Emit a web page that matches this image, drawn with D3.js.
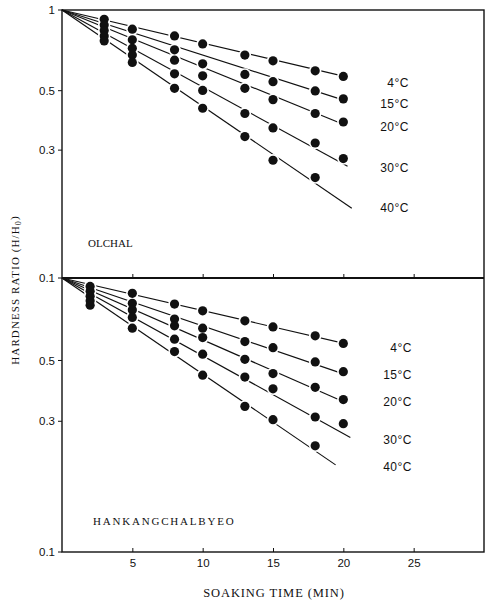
<!DOCTYPE html>
<html>
<head>
<meta charset="utf-8">
<script src="https://cdn.jsdelivr.net/npm/d3@7/dist/d3.min.js"></script>
<style>
  html, body { margin: 0; padding: 0; background: #fff; }
  svg { display: block; }
  .tick-lbl { font-family: "Liberation Sans", Arial, sans-serif; font-size: 11.5px; fill: #111; }
  .series-lbl { font-family: "Liberation Sans", Arial, sans-serif; font-size: 12px; fill: #111; letter-spacing: 0.5px; }
  .caption { font-family: "Liberation Serif", "Times New Roman", serif; fill: #111; }
</style>
</head>
<body>
<svg id="chart" width="486" height="604"></svg>
<script>
// Soaking temperature series (same for both rice varieties)
const temperatures = ["4°C", "15°C", "20°C", "30°C", "40°C"];

// Olchal: sampling times (min) and hardness ratio H/H0 per temperature
const olchalTimes = [3, 5, 8, 10, 13, 15, 18, 20];
const olchal4  = [0.923, 0.848, 0.800, 0.747, 0.679, 0.646, 0.593, 0.565];
const olchal15 = [0.880, 0.774, 0.710, 0.630, 0.575, 0.540, 0.499, 0.466];
const olchal20 = [0.838, 0.720, 0.650, 0.568, 0.510, 0.463, 0.411, 0.382];
const olchal30 = [0.800, 0.680, 0.578, 0.501, 0.411, 0.363, 0.319, 0.279];
const olchal40 = [0.767, 0.637, 0.510, 0.430, 0.337, 0.275, 0.237, null];
// Fitted first-order lines, running from (0, 1) to these end points
const olchalFitEndTime  = [20.3, 20.3, 20.2, 20.3, 20.6];
const olchalFitEndRatio = [0.562, 0.456, 0.371, 0.261, 0.182];

// Hankangchalbyeo
const hankangTimes = [2, 5, 8, 10, 13, 15, 18, 20];
const hankang4  = [0.932, 0.879, 0.803, 0.759, 0.698, 0.663, 0.615, 0.577];
const hankang15 = [0.894, 0.808, 0.708, 0.656, 0.586, 0.557, 0.494, 0.455];
const hankang20 = [0.857, 0.765, 0.669, 0.606, 0.505, 0.448, 0.399, 0.360];
const hankang30 = [0.826, 0.718, 0.598, 0.527, 0.435, 0.394, 0.311, 0.294];
const hankang40 = [0.796, 0.656, 0.539, 0.442, 0.340, 0.304, 0.244, null];
const hankangFitEndTime  = [20.2, 20.1, 20.1, 20.5, 19.45];
const hankangFitEndRatio = [0.575, 0.445, 0.352, 0.262, 0.208];

// Axis ticks
const xTicks = [5, 10, 15, 20, 25];
const topYTicks = [1, 0.5, 0.3, 0.1];
const topYTickLabels = ["1", "0.5", "0.3", "0.1"];
const bottomYTicks = [0.5, 0.3, 0.1];
const bottomYTickLabels = ["0.5", "0.3", "0.1"];

// ---- layout ----
const plotLeft = 62, plotRight = 484;
const panels = [
  { name: "OLCHAL", top: 10, bottom: 278,
    times: olchalTimes, series: [olchal4, olchal15, olchal20, olchal30, olchal40],
    fitT: olchalFitEndTime, fitV: olchalFitEndRatio,
    yTicks: topYTicks, yTickLabels: topYTickLabels,
    labelX: 409, labelNudge: [6, 2, 1, 1, -1], nameX: 88, nameY: 243, nameSpacing: 0 },
  { name: "HANKANGCHALBYEO", top: 278, bottom: 552,
    times: hankangTimes, series: [hankang4, hankang15, hankang20, hankang30, hankang40],
    fitT: hankangFitEndTime, fitV: hankangFitEndRatio,
    yTicks: bottomYTicks, yTickLabels: bottomYTickLabels,
    labelX: 412, labelNudge: [4, 0, 0, 2, 2], nameX: 93, nameY: 521, nameSpacing: 1.8 }
];

const svg = d3.select("#chart");
const x = d3.scaleLinear().domain([0, 30]).range([plotLeft, plotRight]);

panels.forEach((p, pi) => {
  const y = d3.scaleLog().domain([0.1, 1]).range([p.bottom, p.top]);
  const g = svg.append("g");

  // fitted lines
  const line = d3.line().x(d => x(d[0])).y(d => y(d[1]));
  p.fitT.forEach((t, i) => {
    g.append("path")
      .attr("d", line([[0, 1], [t, p.fitV[i]]]))
      .attr("fill", "none").attr("stroke", "#111").attr("stroke-width", 1.15);
  });

  // data points: white halo first so lines break around each dot
  const pts = [];
  p.series.forEach((vals, si) => vals.forEach((v, k) => {
    if (v != null) pts.push({ t: p.times[k], v, si });
  }));
  g.selectAll("circle.halo").data(pts).join("circle")
    .attr("class", "halo")
    .attr("cx", d => x(d.t)).attr("cy", d => y(d.v)).attr("r", 6.2)
    .attr("fill", "#fff");
  g.selectAll("circle.dot").data(pts).join("circle")
    .attr("class", "dot")
    .attr("cx", d => x(d.t)).attr("cy", d => y(d.v)).attr("r", 4.6)
    .attr("fill", "#111");

  // series labels beside line ends
  temperatures.forEach((lbl, i) => {
    g.append("text").attr("class", "series-lbl")
      .attr("x", p.labelX)
      .attr("y", y(p.fitV[i]) + p.labelNudge[i])
      .attr("dy", "0.35em").attr("text-anchor", "end")
      .text(lbl);
  });

  // y ticks and labels
  p.yTicks.forEach((v, i) => {
    g.append("line")
      .attr("x1", plotLeft - 4).attr("x2", plotLeft)
      .attr("y1", y(v)).attr("y2", y(v))
      .attr("stroke", "#111").attr("stroke-width", 1);
    g.append("text").attr("class", "tick-lbl")
      .attr("x", plotLeft - 7).attr("y", y(v)).attr("dy", "0.35em")
      .attr("text-anchor", "end").text(p.yTickLabels[i]);
  });

  // x ticks pointing up from the panel's bottom edge
  const xAxis = d3.axisBottom(x).tickValues(xTicks).tickSize(-4)
    .tickFormat(pi === 1 ? d3.format("d") : () => "");
  const ax = g.append("g").attr("transform", `translate(0,${p.bottom})`).call(xAxis);
  ax.select(".domain").remove();
  ax.selectAll(".tick line").attr("stroke", "#111").attr("stroke-width", 1);
  ax.selectAll(".tick text")
    .attr("class", "tick-lbl").attr("font-size", null).attr("font-family", null)
    .attr("fill", null).attr("dy", "0.9em").attr("y", 5);

  // panel name
  g.append("text").attr("class", "caption")
    .attr("x", p.nameX).attr("y", p.nameY).attr("dy", "0.35em")
    .attr("font-size", 11).attr("letter-spacing", p.nameSpacing)
    .text(p.name);
});

// frame: left axis, top edge, right edge, bottom axis, panel divider
const frame = svg.append("g").attr("stroke", "#111").attr("fill", "none");
frame.append("rect")
  .attr("x", plotLeft).attr("y", 10)
  .attr("width", plotRight - plotLeft).attr("height", 552 - 10)
  .attr("stroke-width", 1.4);
frame.append("line")
  .attr("x1", plotLeft).attr("x2", plotRight).attr("y1", 278).attr("y2", 278)
  .attr("stroke-width", 1.8);

// axis titles
svg.append("text").attr("class", "caption")
  .attr("x", 274).attr("y", 593).attr("dy", "0.35em")
  .attr("text-anchor", "middle").attr("font-size", 12.5).attr("letter-spacing", 0.9)
  .text("SOAKING TIME (MIN)");

const yTitle = svg.append("text").attr("class", "caption")
  .attr("transform", "translate(15,290) rotate(-90)")
  .attr("text-anchor", "middle").attr("dy", "0.35em")
  .attr("font-size", 11).attr("letter-spacing", 1.1);
yTitle.append("tspan").text("HARDNESS RATIO (H/H");
yTitle.append("tspan").attr("font-size", 8).attr("dy", "0.25em").text("0");
yTitle.append("tspan").attr("dy", "-0.25em").text(")");
</script>
</body>
</html>
